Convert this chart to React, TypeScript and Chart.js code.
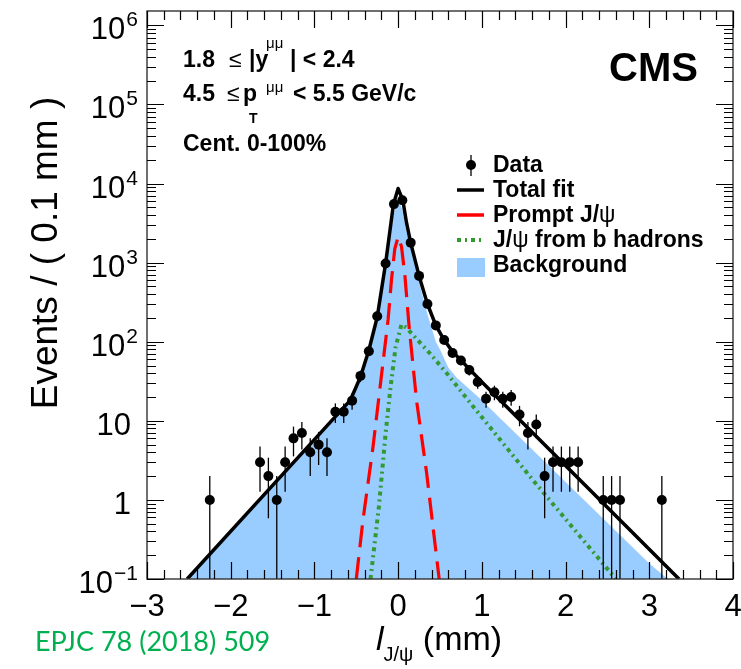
import React, { useEffect, useRef } from 'react';
import { Chart, registerables } from 'chart.js';

Chart.register(...registerables);

// Measured decay-length distribution (events per 0.1 mm bin)
const dataX = [-2.25, -1.65, -1.55, -1.45, -1.35, -1.25, -1.15, -1.05, -0.95, -0.85, -0.75, -0.65, -0.55, -0.45, -0.35, -0.25, -0.15, -0.05, 0.05, 0.15, 0.25, 0.35, 0.45, 0.55, 0.65, 0.75, 0.85, 0.95, 1.05, 1.15, 1.25, 1.35, 1.45, 1.55, 1.65, 1.75, 1.85, 1.95, 2.05, 2.15, 2.45, 2.55, 2.65, 3.15];
const dataY = [1, 3, 2, 1, 3, 6, 7, 4, 5, 4, 13, 13, 18, 37, 76, 210, 975, 5500, 6150, 1790, 680, 300, 161, 105, 72, 58, 44, 31, 19, 23, 19, 20, 12, 7, 9, 2, 3, 3, 3, 3, 1, 1, 1, 1];

// Total fit
const totalX = [-2.52, -0.75, -0.57, -0.45, -0.35, -0.25, -0.15, -0.056, 0.0, 0.056, 0.1, 0.15, 0.25, 0.35, 0.45, 0.55, 0.65, 1.0, 3.355];
const totalY = [0.1, 11.3, 18.3, 36, 78, 205, 975, 5470, 8650, 6150, 3200, 1780, 680, 300, 161, 105, 75, 31, 0.1];

// Prompt J/psi component
const promptX = [-0.5, -0.42, -0.3, -0.2, -0.12, -0.08, -0.04, 0.0, 0.04, 0.08, 0.13, 0.22, 0.34, 0.49];
const promptY = [0.1, 0.56, 4.7, 37, 190, 600, 1500, 2120, 1600, 700, 160, 18, 2.2, 0.1];

// J/psi from b hadrons
const nonpromptX = [-0.33, -0.23, -0.15, -0.09, -0.03, 0.04, 0.1, 0.18, 0.38, 0.58, 0.9, 1.61, 2.6];
const nonpromptY = [0.1, 0.82, 6.9, 27, 86, 165, 150, 121, 71, 40, 15, 1.78, 0.1];

// Background
const bkgX = [-2.52, -0.75, -0.57, -0.45, -0.35, -0.25, -0.15, -0.05, 0.0, 0.05, 0.1, 0.15, 0.25, 0.35, 0.45, 0.5, 0.6, 0.7, 0.97, 3.0, 3.22];
const bkgY = [0.1, 11.3, 18, 35, 76, 193, 860, 4200, 6400, 4700, 2450, 1550, 560, 223, 100, 80, 47, 35, 19.5, 0.157, 0.1];

// Axis ranges and tick labels
const X_MIN = -3;
const X_MAX = 4;
const Y_MIN = 0.1;
const Y_MAX = 1.52e6;
const xTickValues = [-3, -2, -1, 0, 1, 2, 3, 4];
const xTickLabels = ['\u22123', '\u22122', '\u22121', '0', '1', '2', '3', '4'];
const yTickValues = [0.1, 1, 10, 100, 1000, 10000, 100000, 1000000];
const yTickBase = ['10', '1', '10', '10', '10', '10', '10', '10'];
const yTickExp = ['\u22121', '', '', '2', '3', '4', '5', '6'];

const SANS = '"Liberation Sans", Arial, Helvetica, sans-serif';
const BLUE = 'rgb(153,204,255)';
const RED = 'rgb(255,0,0)';
const GREEN = 'rgb(51,153,51)';
const RED_DASH = [22, 10];
const GREEN_DASH = [4, 4, 2, 4];
const TOTAL_INDEX = 1;

const pts = (xs: number[], ys: number[]) => xs.map((x, i) => ({ x, y: ys[i] }));

type Run = { t: string; size: number; bold?: boolean; italic?: boolean; x?: number; dy?: number };

function font(size: number, bold?: boolean, italic?: boolean) {
  return `${italic ? 'italic ' : ''}${bold ? 'bold ' : ''}${size}px ${SANS}`;
}

// Draws consecutive text pieces; a piece with x set starts at that position.
function drawRuns(ctx: CanvasRenderingContext2D, x0: number, y0: number, runs: Run[]) {
  let x = x0;
  ctx.textAlign = 'left';
  ctx.textBaseline = 'alphabetic';
  for (const r of runs) {
    if (r.x !== undefined) x = r.x;
    ctx.font = font(r.size, r.bold, r.italic);
    ctx.fillText(r.t, x, y0 + (r.dy || 0));
    x += ctx.measureText(r.t).width;
  }
  return x;
}

const decorPlugin = {
  id: 'decor',
  afterDatasetDraw(chart: any, args: any) {
    if (args.index !== TOTAL_INDEX) return;
    const { ctx, chartArea: a } = chart;
    const xs = chart.scales.x;
    const ys = chart.scales.y;
    ctx.save();
    ctx.beginPath();
    ctx.rect(a.left, a.top, a.right - a.left, a.bottom - a.top);
    ctx.clip();
    ctx.strokeStyle = '#000';
    ctx.lineWidth = 1.3;
    dataX.forEach((xv, i) => {
      const n = dataY[i];
      const e = Math.sqrt(n);
      const px = xs.getPixelForValue(xv);
      const lo = n - e > 0 ? ys.getPixelForValue(n - e) : a.bottom + 4;
      const hi = ys.getPixelForValue(n + e);
      ctx.beginPath();
      ctx.moveTo(px, lo);
      ctx.lineTo(px, hi);
      ctx.stroke();
    });
    ctx.restore();
  },
  afterDraw(chart: any) {
    const { ctx, chartArea: a } = chart;
    const xs = chart.scales.x;
    const ys = chart.scales.y;
    ctx.save();

    // frame
    ctx.strokeStyle = '#333';
    ctx.lineWidth = 1.4;
    ctx.strokeRect(a.left, a.top, a.right - a.left, a.bottom - a.top);

    // x ticks (bottom and top), every 0.2 mm, long ones at integers
    ctx.strokeStyle = '#000';
    ctx.lineWidth = 1.2;
    for (let i = 0; i <= 35; i++) {
      const v = X_MIN + i * 0.2;
      const major = i % 5 === 0;
      const len = major ? 17 : 9;
      const px = Math.round(xs.getPixelForValue(v)) + 0.5;
      ctx.beginPath();
      ctx.moveTo(px, a.bottom);
      ctx.lineTo(px, a.bottom - len);
      ctx.moveTo(px, a.top);
      ctx.lineTo(px, a.top + len);
      ctx.stroke();
    }
    // y ticks (left and right), decades and 2..9 subdivisions
    for (let d = -1; d <= 6; d++) {
      for (let m = 1; m <= 9; m++) {
        const v = m * Math.pow(10, d);
        if (v < Y_MIN || v > Y_MAX) continue;
        const len = m === 1 ? 17 : 9;
        const py = Math.round(ys.getPixelForValue(v)) + 0.5;
        ctx.beginPath();
        ctx.moveTo(a.left, py);
        ctx.lineTo(a.left + len, py);
        ctx.moveTo(a.right, py);
        ctx.lineTo(a.right - len, py);
        ctx.stroke();
      }
    }

    ctx.fillStyle = '#000';
    // x tick labels
    ctx.font = font(31);
    ctx.textAlign = 'center';
    ctx.textBaseline = 'alphabetic';
    xTickValues.forEach((v, i) => {
      ctx.fillText(xTickLabels[i], xs.getPixelForValue(v), 616);
    });
    // y tick labels
    yTickValues.forEach((v, i) => {
      const py = ys.getPixelForValue(v);
      ctx.textAlign = 'right';
      if (yTickExp[i]) {
        ctx.font = font(21);
        ctx.fillText(yTickExp[i], 138, py + 1);
        const w = ctx.measureText(yTickExp[i]).width;
        ctx.font = font(31);
        ctx.fillText(yTickBase[i], 138 - w - 1, py + 14);
      } else {
        ctx.font = font(31);
        ctx.fillText(yTickBase[i], 131, py + 14);
      }
    });

    // axis titles
    ctx.save();
    ctx.translate(57, 253);
    ctx.rotate(-Math.PI / 2);
    ctx.font = font(37);
    ctx.textAlign = 'center';
    ctx.fillText('Events / ( 0.1 mm )', 0, 0);
    ctx.restore();

    drawRuns(ctx, 376, 650, [
      { t: 'l', size: 34, italic: true },
      { t: 'J/\u03c8', size: 20, dy: 11 },
      { t: ' (mm)', size: 34 },
    ]);

    // selection labels
    drawRuns(ctx, 183, 67, [
      { t: '1.8', size: 23, bold: true },
      { t: '\u2264', size: 23, x: 229 },
      { t: '|y', size: 23, bold: true, x: 249 },
      { t: '\u03bc\u03bc', size: 15, dy: -19, x: 266 },
      { t: '| < 2.4', size: 23, bold: true, x: 290 },
    ]);
    drawRuns(ctx, 183, 101, [
      { t: '4.5', size: 23, bold: true },
      { t: '\u2264', size: 23, x: 227 },
      { t: 'p', size: 23, bold: true, x: 243 },
      { t: 'T', size: 14, bold: true, dy: 22, x: 249 },
      { t: '\u03bc\u03bc', size: 15, dy: -9, x: 266 },
      { t: '< 5.5 GeV/c', size: 23, bold: true, x: 293 },
    ]);
    drawRuns(ctx, 183, 151, [{ t: 'Cent. 0-100%', size: 23, bold: true }]);

    // experiment label
    ctx.font = font(40, true);
    ctx.textAlign = 'right';
    ctx.fillText('CMS', 698, 81);

    // reference
    ctx.fillStyle = 'rgb(0,176,80)';
    ctx.font = '27px Lato, "Open Sans", sans-serif';
    ctx.textAlign = 'left';
    ctx.fillText('EPJC 78 (2018) 509', 35, 651);

    // legend
    ctx.fillStyle = '#000';
    const lx0 = 457;
    const lx1 = 484;
    ctx.strokeStyle = '#000';
    ctx.lineWidth = 1.3;
    ctx.beginPath();
    ctx.moveTo(471, 155);
    ctx.lineTo(471, 176);
    ctx.stroke();
    ctx.beginPath();
    ctx.arc(471, 165, 5, 0, Math.PI * 2);
    ctx.fill();

    ctx.lineWidth = 3.5;
    ctx.beginPath();
    ctx.moveTo(lx0, 190);
    ctx.lineTo(lx1, 190);
    ctx.stroke();

    ctx.strokeStyle = RED;
    ctx.beginPath();
    ctx.moveTo(lx0, 215);
    ctx.lineTo(lx1, 215);
    ctx.stroke();

    ctx.strokeStyle = GREEN;
    ctx.lineWidth = 4;
    ctx.setLineDash(GREEN_DASH);
    ctx.beginPath();
    ctx.moveTo(lx0, 240);
    ctx.lineTo(lx1, 240);
    ctx.stroke();
    ctx.setLineDash([]);

    ctx.fillStyle = BLUE;
    ctx.fillRect(lx0, 258, lx1 - lx0 + 1, 19);

    ctx.fillStyle = '#000';
    drawRuns(ctx, 493, 172, [{ t: 'Data', size: 23, bold: true }]);
    drawRuns(ctx, 493, 197, [{ t: 'Total fit', size: 23, bold: true }]);
    drawRuns(ctx, 493, 222, [
      { t: 'Prompt J/', size: 23, bold: true },
      { t: '\u03c8', size: 23 },
    ]);
    drawRuns(ctx, 493, 247, [
      { t: 'J/', size: 23, bold: true },
      { t: '\u03c8', size: 23 },
      { t: ' from b hadrons', size: 23, bold: true },
    ]);
    drawRuns(ctx, 493, 272, [{ t: 'Background', size: 23, bold: true }]);

    ctx.restore();
  },
};

export default function App() {
  const ref = useRef<HTMLCanvasElement | null>(null);

  useEffect(() => {
    if (!ref.current) return;
    const chart = new Chart(ref.current, {
      type: 'scatter',
      data: {
        datasets: [
          {
            label: 'Data',
            data: pts(dataX, dataY),
            showLine: false,
            pointRadius: 5,
            pointBackgroundColor: '#000',
            pointBorderColor: '#000',
            pointBorderWidth: 0,
          },
          {
            label: 'Total fit',
            data: pts(totalX, totalY),
            showLine: true,
            borderColor: '#000',
            borderWidth: 3.5,
            borderJoinStyle: 'round',
            pointRadius: 0,
          },
          {
            label: 'Prompt J/\u03c8',
            data: pts(promptX, promptY),
            showLine: true,
            borderColor: RED,
            borderWidth: 3.2,
            borderDash: RED_DASH,
            pointRadius: 0,
          },
          {
            label: 'J/\u03c8 from b hadrons',
            data: pts(nonpromptX, nonpromptY),
            showLine: true,
            borderColor: GREEN,
            borderWidth: 4,
            borderDash: GREEN_DASH,
            pointRadius: 0,
          },
          {
            label: 'Background',
            data: pts(bkgX, bkgY),
            showLine: true,
            borderWidth: 0,
            borderColor: BLUE,
            backgroundColor: BLUE,
            fill: 'start',
            pointRadius: 0,
          },
        ],
      },
      options: {
        animation: false,
        responsive: false,
        maintainAspectRatio: false,
        events: [],
        layout: { padding: { left: 147, top: 11, right: 8, bottom: 90 } },
        plugins: { legend: { display: false }, tooltip: { enabled: false } },
        scales: {
          x: { type: 'linear', min: X_MIN, max: X_MAX, display: false },
          y: { type: 'logarithmic', min: Y_MIN, max: Y_MAX, display: false },
        },
      },
      plugins: [decorPlugin],
    } as any);
    return () => chart.destroy();
  }, []);

  return (
    <div style={{ position: 'fixed', left: 0, top: 0, width: 741, height: 669, background: '#fff' }}>
      <canvas ref={ref} width={741} height={669} style={{ width: 741, height: 669, display: 'block' }} />
    </div>
  );
}
